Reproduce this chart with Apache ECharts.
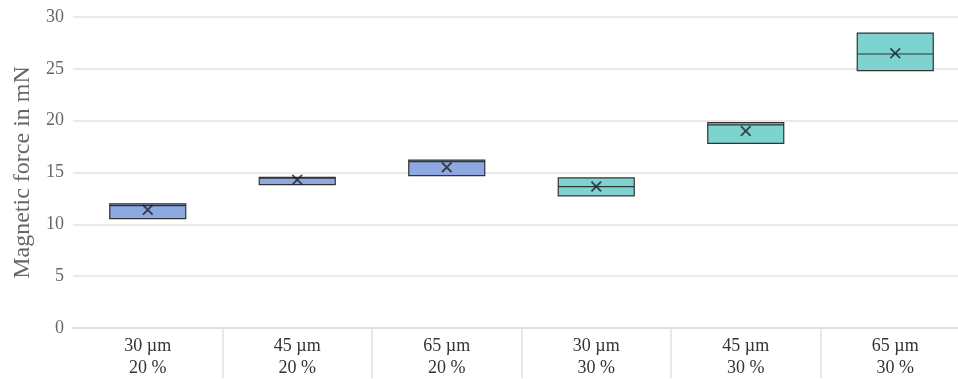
<!DOCTYPE html>
<html>
<head>
<meta charset="utf-8">
<script src="https://cdn.jsdelivr.net/npm/echarts@6/dist/echarts.min.js"></script>
<style>html,body{margin:0;padding:0;background:#fff;overflow:hidden;width:958px;height:379px}#c{width:970px;height:379px}</style>
</head>
<body>
<div id="c"></div>
<script>
const categories = ['30 µm\n20 %', '45 µm\n20 %', '65 µm\n20 %', '30 µm\n30 %', '45 µm\n30 %', '65 µm\n30 %'];
const q1Values = [10.55, 13.83, 14.7, 12.75, 17.8, 24.83];
const medianValues = [11.8, 14.45, 16.04, 13.64, 19.6, 26.43];
const q3Values = [11.98, 14.54, 16.2, 14.48, 19.82, 28.45];
const meanValues = [11.4, 14.3, 15.5, 13.65, 19.0, 26.5];
const boxColors = ['#8EA8E2', '#8EA8E2', '#8EA8E2', '#7DD3CF', '#7DD3CF', '#7DD3CF'];
const yTicks = [0, 5, 10, 15, 20, 25, 30];

const chart = echarts.init(document.getElementById('c'));
const font = '"Liberation Serif", "Times New Roman", serif';
chart.setOption({
  animation: false,
  grid: { left: 73, top: 17, right: 0, bottom: 49 },
  xAxis: {
    type: 'category',
    data: categories,
    axisLine: { lineStyle: { color: '#dcdcdc', width: 1.5 } },
    axisTick: { show: true, length: 50, interval: (i) => i !== 0, lineStyle: { color: '#e0e0e0', width: 1.5 } },
    axisLabel: { color: '#333', fontFamily: font, fontSize: 18, lineHeight: 22, margin: 7 }
  },
  yAxis: {
    type: 'value',
    min: yTicks[0], max: yTicks[yTicks.length - 1], interval: 5,
    name: 'Magnetic force in mN',
    nameLocation: 'middle',
    nameGap: 38,
    nameTextStyle: { color: '#666', fontFamily: font, fontSize: 24 },
    axisLine: { show: false },
    axisTick: { show: false },
    axisLabel: { color: '#666', fontFamily: font, fontSize: 18, margin: 9 },
    splitLine: { lineStyle: { color: '#e3e3e3', width: 1.5 } }
  },
  series: [
    {
      type: 'boxplot',
      boxWidth: [76, 76],
      data: categories.map((c, i) => ({
        value: [q1Values[i], q1Values[i], medianValues[i], q3Values[i], q3Values[i]],
        itemStyle: { color: boxColors[i], borderColor: '#333', borderWidth: 1.2 }
      }))
    },
    {
      type: 'scatter',
      symbol: 'path://M0,1.2L1.2,0L5,3.8L8.8,0L10,1.2L6.2,5L10,8.8L8.8,10L5,6.2L1.2,10L0,8.8L3.8,5Z',
      symbolSize: 11,
      itemStyle: { color: '#222' },
      data: meanValues.map((v, i) => [i, v]),
      z: 5
    }
  ]
});
</script>
</body>
</html>
